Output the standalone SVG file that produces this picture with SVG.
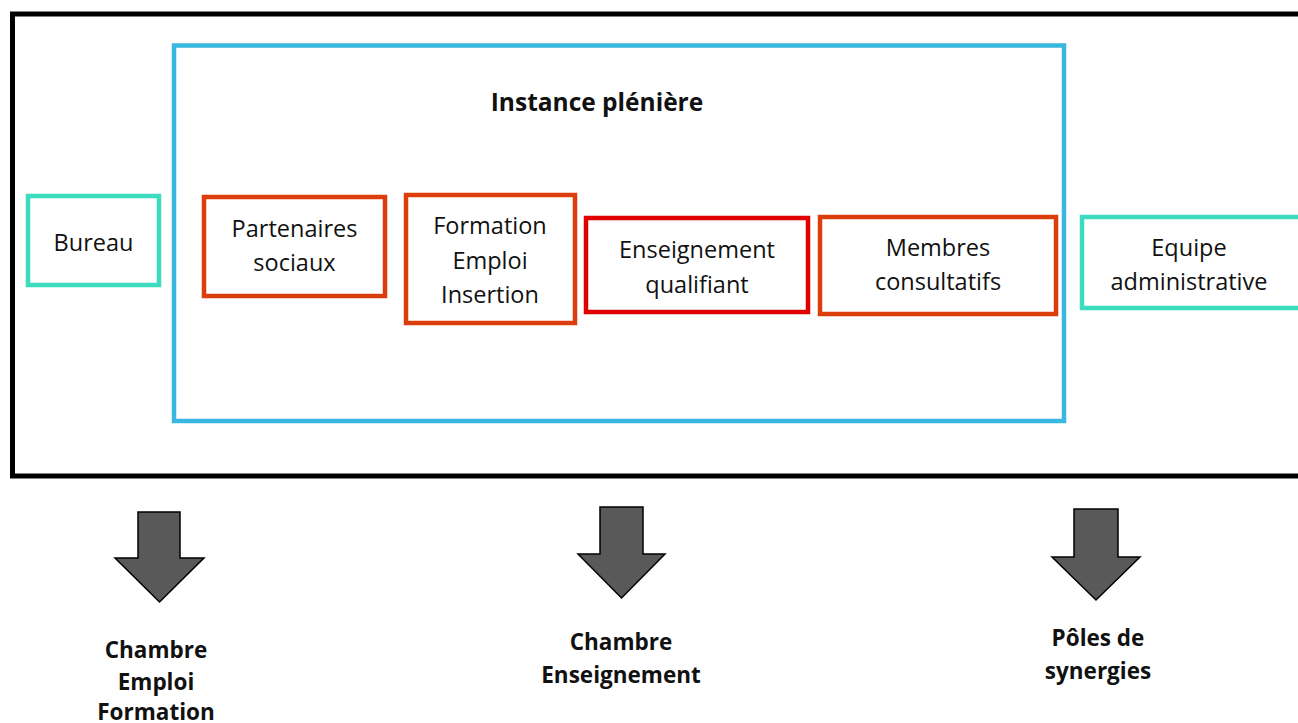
<svg xmlns="http://www.w3.org/2000/svg" width="1298" height="723" viewBox="0 0 1298 723">
<style>
.box{fill:#fff;stroke-width:4.5}
.teal{stroke:#3ddcc0}
.orange{stroke:#dc3d0c}
.red{stroke:#e00000}
.t{font-family:"Open Sans","Liberation Sans",sans-serif;font-size:23.5px;fill:#111;text-anchor:middle}
.b{font-family:"Open Sans","Liberation Sans",sans-serif;font-size:22.5px;font-weight:bold;fill:#111;text-anchor:middle}
.arrow{fill:#595959;stroke:#000;stroke-width:1.5;stroke-linejoin:miter}
</style>
<rect width="1298" height="723" fill="#fff"/>
<g id="outer"><rect x="12.5" y="14" width="1300" height="462" fill="none" stroke="#000" stroke-width="5"/></g>
<g id="instance">
<rect x="174" y="45.5" width="890" height="375.5" fill="none" stroke="#3ab7e0" stroke-width="4.5"/>
<text class="b" x="597" y="111" style="font-size:24.5px">Instance plénière</text>
</g>
<g id="bureau"><rect class="box teal" x="28" y="196" width="131" height="89"/><text class="t" x="93.5" y="251">Bureau</text></g>
<g id="partenaires"><rect class="box orange" x="204" y="197" width="181" height="99"/><text class="t" x="294.5" y="237">Partenaires</text><text class="t" x="294.5" y="271">sociaux</text></g>
<g id="formation"><rect class="box orange" x="406" y="195" width="169" height="128"/><text class="t" x="490" y="234">Formation</text><text class="t" x="490" y="269">Emploi</text><text class="t" x="490" y="303">Insertion</text></g>
<g id="enseignement"><rect class="box red" x="586" y="218" width="222" height="94"/><text class="t" x="697" y="258">Enseignement</text><text class="t" x="697" y="293">qualifiant</text></g>
<g id="membres"><rect class="box orange" x="820" y="217" width="236" height="97"/><text class="t" x="938" y="256">Membres</text><text class="t" x="938" y="290">consultatifs</text></g>
<g id="equipe"><rect class="box teal" x="1082" y="217" width="230" height="91"/><text class="t" x="1189" y="256">Equipe</text><text class="t" x="1189" y="290">administrative</text></g>
<g id="connectors">
<path class="arrow" d="M138 512 H180 V558 H204 L159.5 602 L115 558 H138 Z"/>
<path class="arrow" d="M600 507 H643 V554 H665 L621.5 598 L578 554 H600 Z"/>
<path class="arrow" d="M1074 509 H1118 V557 H1140 L1096 600 L1052 557 H1074 Z"/>
</g>
<g id="chambre-emploi"><text class="b" x="156" y="658">Chambre</text><text class="b" x="156" y="690">Emploi</text><text class="b" x="156" y="720">Formation</text></g>
<g id="chambre-enseignement"><text class="b" x="621" y="650">Chambre</text><text class="b" x="621" y="683">Enseignement</text></g>
<g id="poles"><text class="b" x="1098" y="646">Pôles de</text><text class="b" x="1098" y="679">synergies</text></g>
</svg>
